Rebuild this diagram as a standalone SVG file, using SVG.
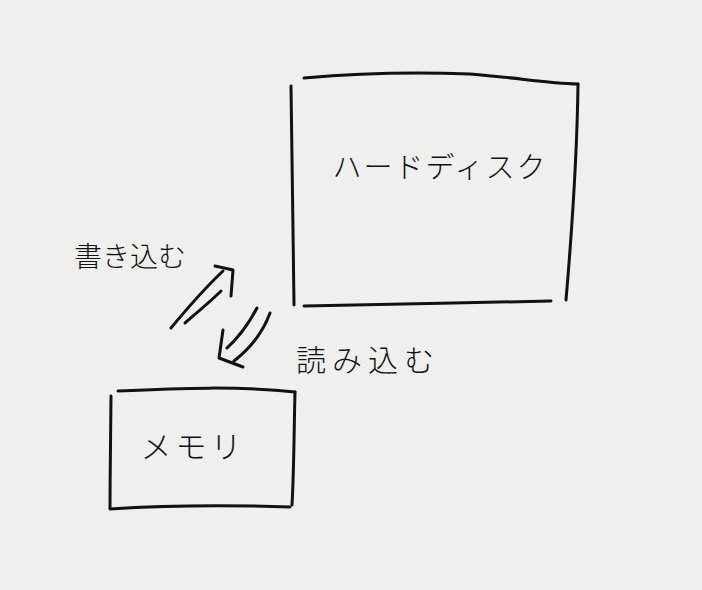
<svg xmlns="http://www.w3.org/2000/svg" width="702" height="590" viewBox="0 0 702 590">
<style>
.ln{fill:none;stroke:#111;stroke-width:3;stroke-linecap:round;stroke-linejoin:round}
.tx{font-family:"Noto Sans CJK JP","Noto Sans",sans-serif;fill:#111;font-weight:300}
</style>
<rect width="702" height="590" fill="#efefed"/>
<g id="harddisk">
<path class="ln" d="M291,86 C292,150 293,230 294,305"/>
<path class="ln" d="M304,78 C360,73 420,72 470,74 C520,78 545,83 578,84"/>
<path class="ln" d="M578,84 C577,160 572,230 566,300"/>
<path class="ln" d="M304,306 C380,304 470,303 551,301"/>
<text class="tx" x="440" y="178" font-size="29" text-anchor="middle" letter-spacing="2">ハードディスク</text>
</g>
<g id="memory">
<path class="ln" d="M111,396 C111,430 110,470 110,508"/>
<path class="ln" d="M118,391 C180,388 240,386 295,392"/>
<path class="ln" d="M295,392 C294,430 294,470 292,505"/>
<path class="ln" d="M110,509 C170,505 230,505 290,507"/>
<text class="tx" x="193" y="458" font-size="31" text-anchor="middle" letter-spacing="4">メモリ</text>
</g>
<g id="connectors">
<g id="write-arrow">
<path class="ln" d="M171,328 C190,305 205,288 223,271"/>
<path class="ln" d="M185,323 C200,310 212,300 221,291"/>
<path class="ln" d="M215,266 L233,270 L231,296"/>
</g>
<g id="read-arrow">
<path class="ln" d="M257,308 C248,325 238,338 227,348"/>
<path class="ln" d="M270,313 C262,335 248,350 234,361"/>
<path class="ln" d="M223,330 L219,358 L243,367"/>
</g>
</g>
<text class="tx" x="130" y="267" font-size="28" text-anchor="middle">書き込む</text>
<text class="tx" x="368" y="371" font-size="30" text-anchor="middle" letter-spacing="6">読み込む</text>
</svg>
